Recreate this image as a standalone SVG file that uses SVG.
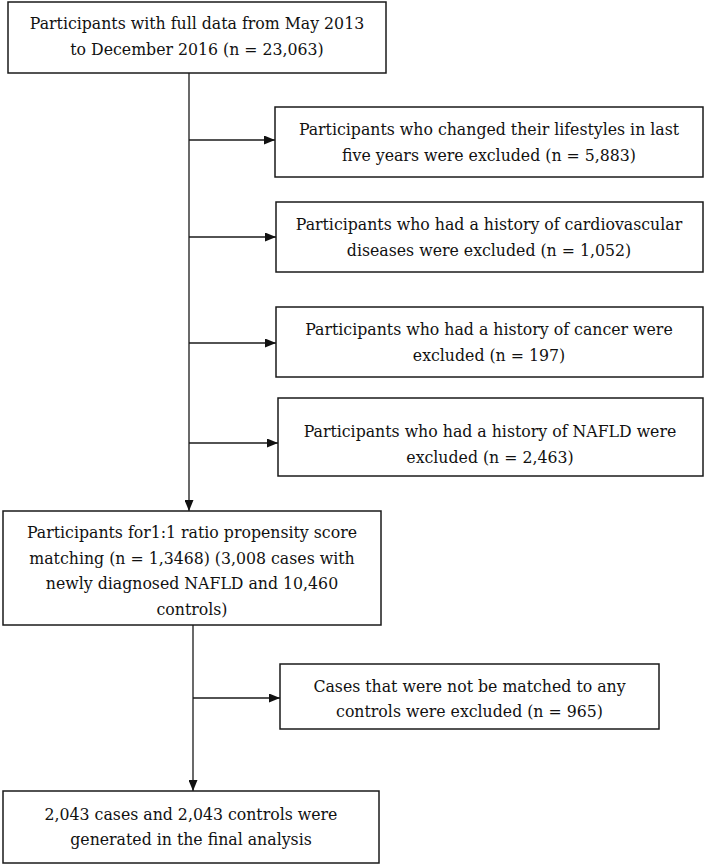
<svg xmlns="http://www.w3.org/2000/svg" width="711" height="866" viewBox="0 0 711 866">
<style>
.box{fill:#fff;stroke:#1a1a1a;stroke-width:1.5}
.t{font-family:"DejaVu Serif Condensed","DejaVu Serif",serif;font-stretch:condensed;font-size:17.5px;fill:#111;text-anchor:middle}
.c{stroke:#1a1a1a;stroke-width:1.3;fill:none}
</style>
<defs>
<marker id="ah" markerWidth="11" markerHeight="9" refX="11" refY="4.5" orient="auto" markerUnits="userSpaceOnUse">
<path d="M0,0 L11,4.5 L0,9 Z" fill="#111"/>
</marker>
</defs>
<rect width="711" height="866" fill="#fff"/>
<g id="connectors">
<line class="c" x1="189" y1="73" x2="189" y2="511" marker-end="url(#ah)"/>
<line class="c" x1="189" y1="140" x2="275" y2="140" marker-end="url(#ah)"/>
<line class="c" x1="189" y1="237" x2="276" y2="237" marker-end="url(#ah)"/>
<line class="c" x1="189" y1="343" x2="276" y2="343" marker-end="url(#ah)"/>
<line class="c" x1="189" y1="443" x2="278" y2="443" marker-end="url(#ah)"/>
<line class="c" x1="193" y1="625" x2="193" y2="791" marker-end="url(#ah)"/>
<line class="c" x1="193" y1="698" x2="280" y2="698" marker-end="url(#ah)"/>
</g>
<g id="n0">
<rect class="box" x="8" y="2" width="378" height="71"/>
<text class="t" x="197" y="28.5">Participants with full data from May 2013</text>
<text class="t" x="197" y="54.5">to December 2016 (n = 23,063)</text>
</g>
<g id="n1">
<rect class="box" x="275" y="107" width="428" height="70"/>
<text class="t" x="489" y="135">Participants who changed their lifestyles in last</text>
<text class="t" x="489" y="160.5">five years were excluded (n = 5,883)</text>
</g>
<g id="n2">
<rect class="box" x="276" y="202" width="427" height="70"/>
<text class="t" x="489" y="230">Participants who had a history of cardiovascular</text>
<text class="t" x="489" y="255.5">diseases were excluded (n = 1,052)</text>
</g>
<g id="n3">
<rect class="box" x="276" y="307" width="427" height="70"/>
<text class="t" x="489" y="335">Participants who had a history of cancer were</text>
<text class="t" x="489" y="360.5">excluded (n = 197)</text>
</g>
<g id="n4">
<rect class="box" x="278" y="398" width="425" height="78"/>
<text class="t" x="490" y="437">Participants who had a history of NAFLD were</text>
<text class="t" x="490" y="462.5">excluded (n = 2,463)</text>
</g>
<g id="n5">
<rect class="box" x="3" y="511" width="378" height="114"/>
<text class="t" x="192" y="538">Participants for1:1 ratio propensity score</text>
<text class="t" x="192" y="563.5">matching (n = 1,3468) (3,008 cases with</text>
<text class="t" x="192" y="589">newly diagnosed NAFLD and 10,460</text>
<text class="t" x="192" y="614.5">controls)</text>
</g>
<g id="n6">
<rect class="box" x="280" y="664" width="379" height="65"/>
<text class="t" x="469.5" y="692">Cases that were not be matched to any</text>
<text class="t" x="469.5" y="717">controls were excluded (n = 965)</text>
</g>
<g id="n7">
<rect class="box" x="3" y="791" width="376" height="72"/>
<text class="t" x="191" y="820">2,043 cases and 2,043 controls were</text>
<text class="t" x="191" y="845">generated in the final analysis</text>
</g>
</svg>
